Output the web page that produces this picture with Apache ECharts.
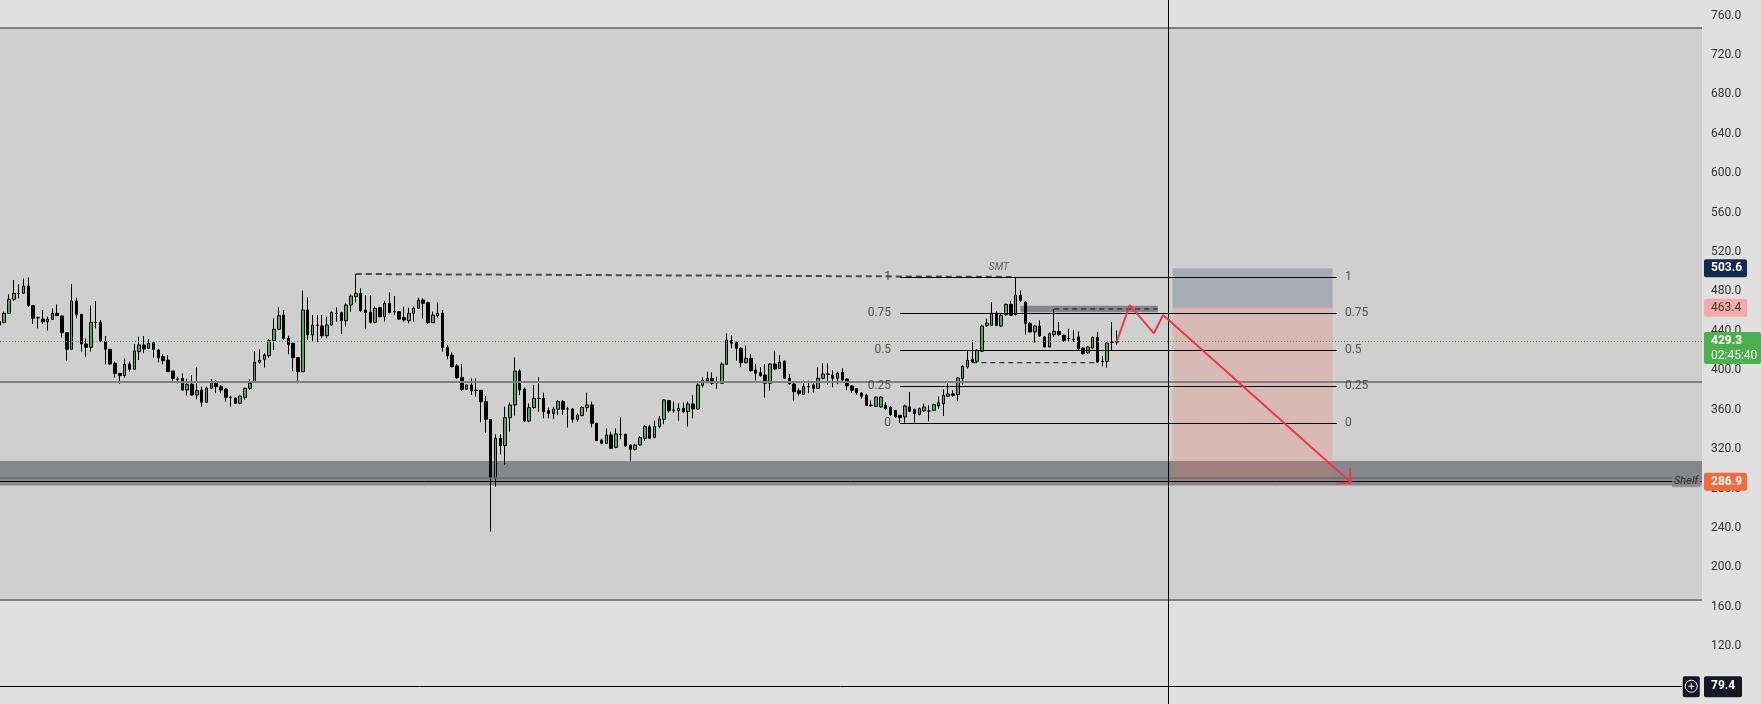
<!DOCTYPE html>
<html><head><meta charset="utf-8">
<script src="https://cdn.jsdelivr.net/npm/echarts@6/dist/echarts.min.js"></script>
<style>html,body{margin:0;padding:0;background:#e0e0e0;overflow:hidden}#c{width:1761px;height:704px}</style>
</head><body><div id="c"></div>
<script>
// ---------- data ----------
const open = [
449.3,448.7,457.8,472.0,478.1,478.1,485.5,465.6,453.4,452.0,
449.3,451.7,457.8,455.1,438.2,421.3,470.3,456.8,426.7,423.3,
448.7,448.7,429.0,421.3,407.1,396.9,394.5,406.4,401.0,418.9,
425.7,422.3,428.0,420.6,413.8,410.4,399.3,391.2,391.8,380.0,
385.8,374.9,380.0,367.5,381.7,387.8,383.4,381.0,372.6,371.9,
366.5,372.6,381.7,387.8,408.1,411.1,414.8,430.1,441.6,456.1,
432.4,427.4,412.8,398.6,461.2,435.8,445.9,444.9,435.1,445.9,
457.8,458.5,450.3,466.2,474.7,478.1,461.2,458.8,448.7,463.5,
454.4,467.9,459.5,459.5,453.4,450.3,457.8,462.9,471.3,468.6,
448.3,455.4,457.8,423.3,415.5,404.4,392.9,380.7,385.1,379.7,
379.7,368.2,350.2,291.1,331.0,323.5,351.9,364.8,399.3,381.0,
348.5,362.1,371.5,371.5,359.0,356.0,360.4,368.2,360.8,360.8,
350.2,354.0,362.1,364.8,346.2,329.3,325.9,334.4,321.8,335.1,
335.1,324.2,319.8,324.2,331.0,342.8,332.0,342.8,350.2,369.2,
359.7,359.0,361.4,358.0,365.8,360.7,384.7,389.5,391.8,387.5,
386.8,406.0,430.1,428.0,422.3,407.7,412.1,400.3,397.6,395.2,
386.8,406.4,402.0,409.4,391.8,386.1,379.3,375.6,383.4,385.1,
381.7,391.8,396.2,395.2,391.8,397.9,391.1,384.1,381.4,377.0,
374.6,364.5,363.4,362.8,364.4,362.1,359.4,354.3,352.6,362.8,
360.1,355.3,358.7,358.8,359.4,363.8,366.1,373.6,376.0,375.3,
391.5,403.3,410.8,409.1,419.3,445.6,445.6,458.1,444.9,456.4,
466.9,456.4,476.1,469.3,447.3,438.9,444.9,433.8,423.6,436.2,
439.5,435.5,432.2,431.5,433.8,422.6,417.6,422.6,433.4,409.1,
409.1,428.7,428.5];
const close = [
445.9,457.8,472.0,478.1,477.8,485.5,465.6,452.7,453.2,449.3,
452.0,457.8,455.4,438.2,421.3,470.3,456.8,426.7,423.3,448.7,
448.4,429.7,421.3,406.4,396.9,394.5,406.0,401.0,419.6,425.7,
421.6,427.4,421.3,412.8,409.8,398.6,391.8,391.0,380.0,385.8,
374.9,379.3,367.5,381.7,387.8,383.4,380.0,372.6,372.4,366.5,
373.9,381.7,386.8,408.1,410.1,415.5,430.1,441.6,455.4,432.4,
426.3,412.8,398.6,461.2,435.8,445.9,445.7,435.1,445.9,458.8,
457.6,450.3,466.2,475.4,478.1,460.5,458.5,448.7,462.9,454.4,
467.9,458.5,459.3,452.0,451.0,457.8,462.9,471.3,467.9,448.3,
456.1,457.8,423.3,414.8,403.7,392.5,380.7,385.1,379.0,379.5,
368.2,350.2,291.1,331.0,323.5,351.9,364.8,399.3,380.0,348.5,
362.1,371.5,371.3,358.0,356.3,360.7,368.2,360.4,360.6,350.2,
354.6,362.4,364.8,346.2,328.6,325.9,334.4,320.8,335.4,335.0,
323.2,319.8,324.2,331.6,342.8,331.0,342.8,350.6,369.9,359.0,
359.5,361.4,358.0,365.8,360.7,385.1,390.1,391.8,386.8,387.3,
406.4,430.7,427.4,422.3,407.7,412.1,399.6,396.9,394.5,386.8,
406.4,401.3,408.1,391.8,386.1,378.3,376.6,383.4,383.2,381.7,
391.8,396.2,396.0,391.8,396.9,390.1,384.1,379.7,377.0,373.6,
364.4,364.3,372.9,372.9,361.1,355.0,352.6,351.9,363.8,358.4,
356.0,361.1,362.8,358.6,365.1,367.1,374.6,376.0,374.6,392.2,
404.0,410.1,408.4,420.3,444.9,448.0,458.1,445.6,455.8,466.9,
455.8,476.1,471.0,447.3,438.9,444.9,434.8,423.6,437.2,439.5,
436.2,430.4,432.0,431.3,422.0,416.9,423.6,433.4,408.4,408.9,
427.7,428.5,429.3];
const low = [
444.3,447.6,457.1,470.6,473.0,477.7,464.6,447.0,442.6,447.0,
440.2,451.0,455.2,433.1,409.8,421.0,452.7,418.9,413.8,418.9,
442.6,428.4,406.0,405.4,392.5,386.4,392.5,398.6,400.7,410.4,
417.2,421.6,412.8,408.1,406.0,398.4,387.8,386.8,379.0,374.3,
374.3,370.5,363.1,367.2,381.0,376.6,376.6,368.2,363.1,366.3,
365.5,370.2,380.0,387.6,406.7,402.7,412.8,420.6,440.9,430.7,
416.2,399.3,386.8,398.4,430.7,429.7,428.4,432.4,432.4,444.9,
449.3,436.8,444.3,459.5,468.9,459.5,441.6,447.6,447.6,453.7,
449.3,457.8,456.1,451.0,449.3,447.6,449.3,462.2,452.7,447.0,
448.3,453.4,418.9,411.1,403.0,391.2,379.0,380.0,374.9,373.2,
347.2,336.7,236.3,281.9,314.7,303.9,337.7,353.9,374.9,347.9,
347.2,360.7,358.0,351.3,351.3,350.6,354.6,354.6,341.8,346.9,
347.9,353.6,358.0,342.1,328.6,324.9,325.2,319.8,320.8,330.0,
322.5,308.3,318.5,323.2,328.3,330.3,331.0,341.1,345.2,357.0,
357.0,348.9,357.0,342.8,351.3,359.7,382.7,386.8,385.1,381.0,
386.7,405.9,422.3,409.8,403.0,407.1,398.6,389.5,393.5,372.2,
379.3,400.3,401.3,391.8,385.1,369.2,374.3,374.9,376.6,377.3,
381.0,390.8,385.1,382.7,385.8,387.8,380.0,377.0,375.3,371.2,
363.8,362.8,362.8,362.1,359.4,353.6,351.6,346.5,346.9,357.7,
346.9,354.3,357.7,348.2,358.4,361.1,353.6,372.9,372.9,368.5,
385.4,401.7,407.7,408.4,418.6,443.9,444.9,444.9,443.9,455.8,
455.1,455.8,469.3,436.2,438.2,428.0,433.8,423.6,423.6,433.8,
434.8,428.7,428.7,428.7,420.3,415.9,416.9,421.3,407.4,404.0,
402.7,420.3,426.0];
const high = [
451.0,459.5,477.1,491.6,487.2,493.3,494.3,465.8,454.4,461.2,
454.4,462.9,466.9,455.4,438.5,487.6,473.7,457.0,432.4,465.6,
470.3,451.0,434.8,421.6,408.8,397.2,412.1,408.8,426.7,434.1,
434.8,431.7,429.0,421.6,416.2,415.5,399.5,393.5,396.9,391.2,
395.2,403.0,383.4,383.4,391.2,390.2,385.1,381.7,374.3,372.2,
374.3,382.4,390.8,419.6,421.3,417.2,431.7,452.7,463.9,461.2,
435.0,427.7,413.0,480.8,474.0,456.1,456.1,456.1,454.4,459.5,
463.9,459.5,467.9,477.1,497.7,483.2,476.4,476.4,464.6,464.6,
470.3,479.1,475.4,460.2,464.6,463.5,464.6,473.7,473.0,469.6,
459.5,468.9,461.2,425.7,418.2,406.4,406.0,385.3,391.8,391.8,
380.0,373.9,350.4,335.0,335.0,363.1,367.2,413.1,401.0,382.4,
366.5,385.1,392.9,377.3,362.1,363.1,369.9,369.9,363.1,361.4,
356.3,363.8,377.3,368.2,346.9,330.0,341.1,337.7,341.1,352.3,
335.4,324.2,325.2,333.3,344.5,344.5,348.9,353.6,370.5,369.9,
368.2,366.5,367.2,368.2,374.9,386.8,392.9,398.6,397.9,393.5,
408.1,437.5,435.8,429.0,423.3,425.0,416.5,406.4,403.0,406.4,
407.1,419.9,415.5,409.8,396.2,386.8,381.7,389.5,389.5,387.5,
403.0,407.1,407.1,400.3,398.6,402.0,391.8,384.7,382.0,377.3,
376.3,369.5,373.0,373.6,367.8,363.8,359.4,354.3,365.1,378.0,
361.1,362.1,366.1,364.4,366.1,373.6,380.7,388.1,379.7,393.2,
405.0,419.6,430.4,421.3,446.3,452.4,469.3,459.8,457.5,467.6,
470.3,494.7,481.1,470.3,449.0,445.6,450.7,434.8,438.2,462.2,
449.0,436.2,442.2,440.5,439.5,423.6,424.3,434.1,438.9,414.5,
428.7,449.0,440.5];

const slotCount = 354;                 // bars visible incl. empty future space
const yRange = [40, 800];               // price scale
const yStep = 40;
const rangeBox = [747.5, 167.0];        // big shaded rectangle
const greyLevel = 388.1;                // grey horizontal line
const shelfBand = [308.0, 283.0];
const shelfInner = 291.0;
const shelfPrice = 286.9;
const lastPrice = 429.3;
const countdown = '02:45:40';
const stopPrice = 503.6, entryPrice = 463.4;
const positionX = [243.6, 276.8];
const fibLevels = [0, 0.25, 0.5, 0.75, 1];
const fibLabels = ['0', '0.25', '0.5', '0.75', '1'];
const fibLow = 346.5, fibHigh = 494.7;
const fibX = [187, 277.7];
const smtLine = [[74, 497.7], [211, 494.7]];
const smtText = [207.5, 504.1];
const lowDash = [[202, 407.7], [228, 407.7]];
const obBox = [[212, 465.5], [240.5, 458.8]];
const obDash = [[219, 462.2], [240.5, 462.2]];
const zigzag = [[232, 429.3], [234.7, 466.2], [239.7, 437.5], [241.6, 456.1], [280.6, 286.1]];
const arrowArms = [[277.6, 285.3], [280.6, 286.1], [280.4, 300.5]];
const crossX = 242.7, crossPrice = 79.4, crossEndX = 349.3;
const shelfTextX = 350.2;

// ---------- chart ----------
const chart = echarts.init(document.getElementById('c'), null, {renderer: 'canvas'});
const cats = Array.from({length: slotCount}, (_, i) => String(i));
const candles = open.map((o, i) => [o, close[i], low[i], high[i]]);
const fibPrice = f => +(fibLow + (fibHigh - fibLow) * f).toFixed(2);
const noLabel = {show: false};
const ml = (data, extra) => Object.assign({silent: true, symbol: ['none', 'none'], label: noLabel, animation: false, emphasis: {disabled: true}, data}, extra || {});
const seg = (pts, style, z) => ({type: 'line', xAxisIndex: 1, yAxisIndex: 0, data: pts, symbol: 'none', silent: true, z, lineStyle: style, animation: false});
const FONT = 'Roboto';

const option = {
  animation: false,
  backgroundColor: '#e0e0e0',
  grid: {left: -3, top: -23.92, width: 1705, height: 748.98, containLabel: false, outerBoundsMode: 'none'},
  xAxis: [
    {type: 'category', data: cats, boundaryGap: true, show: false},
    {type: 'value', min: -0.5, max: slotCount - 0.5, show: false}
  ],
  yAxis: {
    type: 'value', position: 'right', min: yRange[0], max: yRange[1], interval: yStep, scale: true,
    axisLine: {show: false}, axisTick: {show: false}, splitLine: {show: false},
    axisLabel: {color: '#333', fontSize: 12, fontFamily: FONT, margin: 9, formatter: v => v.toFixed(1), showMinLabel: true, showMaxLabel: true}
  },
  series: [
    { // background rectangle
      type: 'line', xAxisIndex: 1, data: [], z: 0, silent: true,
      markArea: {silent: true, itemStyle: {color: '#cfcfcf'}, data: [[{yAxis: rangeBox[0]}, {yAxis: rangeBox[1]}]]},
      markLine: ml([{yAxis: rangeBox[0]}, {yAxis: rangeBox[1]}], {lineStyle: {color: '#808080', width: 2, type: 'solid'}})
    },
    { // levels
      type: 'line', xAxisIndex: 1, data: [], z: 1, silent: true,
      markArea: {silent: true, itemStyle: {color: '#86878b'}, data: [[{yAxis: shelfBand[0]}, {yAxis: shelfBand[1]}]]},
      markLine: ml([
        {yAxis: greyLevel, lineStyle: {color: '#808080', width: 2, type: 'solid'}},
        {yAxis: shelfInner, lineStyle: {color: '#6b6c70', width: 1.5, type: 'solid'}},
        {yAxis: shelfPrice, lineStyle: {color: '#000', width: 1, type: 'solid'}},
        {yAxis: lastPrice, lineStyle: {color: '#4caf50', width: 1, type: [1, 2]}}
      ])
    },
    { // position tool + order block
      type: 'line', xAxisIndex: 1, data: [], z: 1, silent: true,
      markArea: {silent: true, data: [
        [{coord: [positionX[0], stopPrice], itemStyle: {color: 'rgba(90,105,130,0.35)'}}, {coord: [positionX[1], entryPrice]}],
        [{coord: [positionX[0], entryPrice], itemStyle: {color: 'rgba(255,100,70,0.2)'}}, {coord: [positionX[1], shelfPrice]}],
        [{coord: obBox[0], itemStyle: {color: '#86878b'}}, {coord: obBox[1]}]
      ]},
      markLine: ml([[{coord: [positionX[0], entryPrice]}, {coord: [positionX[1], entryPrice]}]], {lineStyle: {color: '#f2a3a3', width: 1, type: 'solid'}})
    },
    {
      type: 'candlestick', xAxisIndex: 0, yAxisIndex: 0, data: candles, z: 3, barWidth: 3, silent: true,
      itemStyle: {color: '#4caf50', color0: '#000000', borderColor: '#000000', borderColor0: '#000000', borderColorDoji: '#000000', borderWidth: 1}
    },
    { // fib lines
      type: 'line', xAxisIndex: 1, data: [], z: 4, silent: true,
      markLine: ml(fibLevels.map(f => [{coord: [fibX[0], fibPrice(f)]}, {coord: [fibX[1], fibPrice(f)]}]), {lineStyle: {color: '#000', width: 1, type: 'solid'}})
    },
    seg(smtLine, {color: '#4a4a4a', width: 2, type: [6, 4]}, 4),
    seg(lowDash, {color: '#111', width: 1, type: [5, 4]}, 4),
    seg(obDash, {color: '#111', width: 1, type: [5, 4]}, 4),
    seg(zigzag, {color: '#f23645', width: 2}, 5),
    seg(arrowArms, {color: '#f23645', width: 2}, 5),
    { // text labels
      type: 'scatter', xAxisIndex: 1, yAxisIndex: 0, symbolSize: 0, z: 6, silent: true, clip: false,
      data: [
        ...fibLevels.map((f, i) => ({value: [fibX[0], fibPrice(f)], label: {show: true, position: 'left', distance: 9, formatter: fibLabels[i], color: '#333', fontSize: 12, fontFamily: FONT}})),
        ...fibLevels.map((f, i) => ({value: [fibX[1], fibPrice(f)], label: {show: true, position: 'right', distance: 8, formatter: fibLabels[i], color: '#333', fontSize: 12, fontFamily: FONT}})),
        {value: smtText, label: {show: true, position: 'inside', formatter: 'SMT', color: '#444', fontSize: 10, fontStyle: 'italic', fontFamily: FONT}},
        {value: [shelfTextX, shelfPrice], label: {show: true, position: 'inside', formatter: 'Shelf', color: '#1a1a1a', fontSize: 11, fontStyle: 'italic', fontFamily: FONT, backgroundColor: '#86878b', padding: [0, 2]}}
      ]
    },
    { // crosshair
      type: 'line', xAxisIndex: 1, data: [], z: 7, silent: true,
      markLine: ml([
        {xAxis: crossX},
        [{coord: [-0.5, crossPrice]}, {coord: [crossEndX, crossPrice]}]
      ], {lineStyle: {color: '#000', width: 1, type: 'solid'}})
    }
  ]
};
chart.setOption(option);

// price tags on the right scale, placed through the chart's own scales
const yp = v => chart.convertToPixel({yAxisIndex: 0}, v);
const xRight = chart.convertToPixel({xAxisIndex: 1}, slotCount - 0.5);
const xCross = chart.convertToPixel({xAxisIndex: 1}, crossEndX);
const bx = xRight + 2, tx = xRight + 9;
const txt = (x, y, s, fill, weight) => ({type: 'text', x, y, z: 100, style: {text: s, fill, font: (weight || 'bold') + ' 12px ' + FONT, align: 'left', verticalAlign: 'middle', textAlign: 'left', textVerticalAlign: 'middle'}});
const rect = (x, y, w, h, fill) => ({type: 'rect', z: 99, shape: {x, y, width: w, height: h, r: 2}, style: {fill}});
const g = [];
g.push(rect(bx, yp(stopPrice) - 9, 43, 18, '#132a4f'), txt(tx, yp(stopPrice), stopPrice.toFixed(1), '#fff'));
g.push(rect(bx, yp(entryPrice) - 9, 43, 18, '#f5a9a8'), txt(tx, yp(entryPrice), entryPrice.toFixed(1), '#3a3a3a', 'normal'));
g.push(rect(bx, yp(lastPrice) - 9.5, 1761 - bx, 32, '#4caf50'), txt(tx, yp(lastPrice), lastPrice.toFixed(1), '#fff'), txt(tx, yp(lastPrice) + 15, countdown, '#e8f5e9', 'normal'));
g.push(rect(bx, yp(shelfPrice) - 9, 43, 18, '#f7683a'), txt(tx, yp(shelfPrice), shelfPrice.toFixed(1), '#fff'));
g.push(rect(bx, yp(crossPrice) - 10, 38, 21, '#131722'), txt(tx, yp(crossPrice), crossPrice.toFixed(1), '#fff'));
g.push(rect(xCross + 1, yp(crossPrice) - 10, 17, 21, '#131722'));
g.push({type: 'circle', z: 100, shape: {cx: xCross + 9.5, cy: yp(crossPrice), r: 6}, style: {fill: 'none', stroke: '#fff', lineWidth: 1}});
g.push({type: 'line', z: 100, shape: {x1: xCross + 6.5, y1: yp(crossPrice), x2: xCross + 12.5, y2: yp(crossPrice)}, style: {stroke: '#fff', lineWidth: 1}});
g.push({type: 'line', z: 100, shape: {x1: xCross + 9.5, y1: yp(crossPrice) - 3, x2: xCross + 9.5, y2: yp(crossPrice) + 3}, style: {stroke: '#fff', lineWidth: 1}});
chart.setOption({graphic: g});
</script></body></html>
